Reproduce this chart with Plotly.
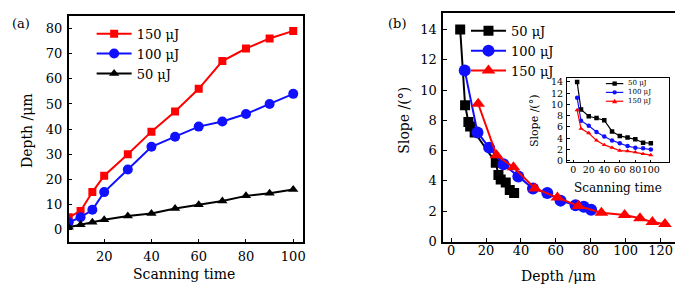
import plotly.graph_objects as go

W, H = 683, 288

# ---------------- data ----------------
scan_time = [5, 10, 15, 20, 30, 40, 50, 60, 70, 80, 90, 100]
depth_150 = [5, 7.5, 15, 21.5, 30, 39, 47, 56, 67, 72, 76, 79]
depth_100 = [3, 5, 8, 15, 24, 33, 37, 41, 43, 46, 50, 54]
depth_50 = [1, 2, 3, 4, 5.5, 6.5, 8.5, 10, 11.5, 13.5, 14.5, 16]

b_depth_50 = [5.2, 8.0, 9.9, 10.9, 13.5, 25.6, 27.1, 28.4, 31.3, 33.6, 36.1]
b_slope_50 = [14.0, 9.0, 7.9, 7.6, 7.2, 5.2, 4.4, 4.1, 3.9, 3.4, 3.2]
b_depth_100 = [7.8, 15.1, 21.8, 30.0, 38.5, 46.9, 55.1, 62.7, 71.3, 76.0, 80.2]
b_slope_100 = [11.3, 7.2, 6.2, 5.1, 4.3, 3.5, 3.2, 2.7, 2.4, 2.3, 2.1]
b_depth_150 = [15.5, 26.0, 35.7, 48.1, 60.9, 72.9, 86.1, 99.4, 108.2, 115.3, 122.5]
b_slope_150 = [9.1, 5.7, 4.9, 3.5, 2.9, 2.35, 1.9, 1.75, 1.54, 1.28, 1.15]

inset_time = [5, 10, 20, 30, 40, 50, 60, 70, 80, 90, 100]
inset_slope_50 = [14.0, 9.1, 7.9, 7.6, 7.2, 5.2, 4.4, 4.1, 3.8, 3.2, 3.1]
inset_slope_100 = [11.2, 7.1, 6.2, 5.1, 4.3, 3.6, 3.1, 2.6, 2.3, 2.2, 2.0]
inset_slope_150 = [9.0, 5.7, 4.9, 3.6, 2.8, 2.3, 1.8, 1.7, 1.5, 1.2, 1.0]
inset_xticks = [0, 20, 40, 60, 80, 100]

labels = ["150 μJ", "100 μJ", "50 μJ"]
RED, BLUE, BLACK = "#ff0000", "#1010ff", "#000000"

FONT = "DejaVu Serif"


def px(x):
    return x / W


def py(y):
    return 1 - y / H


fig = go.Figure()

# ---------------- panel (a) ----------------
for d, lab, col, sym, sz in [(depth_150, labels[0], RED, "square", 8),
                             (depth_100, labels[1], BLUE, "circle", 10),
                             (depth_50, labels[2], BLACK, "triangle-up", 9)]:
    fig.add_trace(go.Scatter(x=scan_time, y=d, name=lab, mode="lines+markers",
                             line=dict(color=col, width=2),
                             marker=dict(symbol=sym, size=sz, color=col),
                             xaxis="x", yaxis="y", legend="legend"))

# ---------------- panel (b) ----------------
for dx, dy, lab, col, sym, sz in [(b_depth_50, b_slope_50, labels[2], BLACK, "square", 10),
                                  (b_depth_100, b_slope_100, labels[1], BLUE, "circle", 12),
                                  (b_depth_150, b_slope_150, labels[0], RED, "triangle-up", 12)]:
    fig.add_trace(go.Scatter(x=dx, y=dy, name=lab, mode="lines+markers",
                             line=dict(color=col, width=2),
                             marker=dict(symbol=sym, size=sz, color=col),
                             xaxis="x2", yaxis="y2", legend="legend2"))

# ---------------- inset ----------------
for s, lab, col, sym in [(inset_slope_50, labels[2], BLACK, "square"),
                         (inset_slope_100, labels[1], BLUE, "circle"),
                         (inset_slope_150, labels[0], RED, "triangle-up")]:
    fig.add_trace(go.Scatter(x=inset_time, y=s, name=lab, mode="lines+markers",
                             line=dict(color=col, width=1.2),
                             marker=dict(symbol=sym, size=4.5, color=col),
                             xaxis="x3", yaxis="y3", showlegend=False))

ax_common = dict(showline=True, linecolor="black", linewidth=1.5, mirror=True,
                 ticks="inside", ticklen=4, tickcolor="black", showgrid=False,
                 zeroline=False, tickfont=dict(family=FONT, size=13, color="black"))

inset_ax = dict(showline=True, linecolor="black", linewidth=1, mirror=True,
                ticks="inside", ticklen=2.5, tickcolor="black", showgrid=False,
                zeroline=False,
                tickfont=dict(family=FONT, size=9.5, color="black"))

fig.update_layout(
    width=W, height=H, margin=dict(l=0, r=0, t=0, b=0),
    paper_bgcolor="white", plot_bgcolor="white",
    font=dict(family=FONT, color="black"),
    xaxis=dict(domain=[px(61), px(296)], range=[5, 104], dtick=20, tick0=0,
               anchor="y", ticklabelstandoff=1, **ax_common),
    yaxis=dict(domain=[py(241), py(7)], range=[-5, 85], dtick=10, tick0=0,
               anchor="x", ticklabelstandoff=2, **ax_common),
    xaxis2=dict(domain=[px(437), px(673)], range=[-4.6, 130], dtick=20, tick0=0,
                anchor="y2", ticklabelstandoff=-4, **ax_common),
    yaxis2=dict(domain=[py(240), py(4)], range=[0, 15.1], dtick=2, tick0=0,
                anchor="x2", ticklabelstandoff=2, **ax_common),
    xaxis3=dict(domain=[px(561.5), px(664)], range=[-8, 123.5],
                tickmode="array", tickvals=inset_xticks,
                anchor="y3", tickangle=0, ticklabelstandoff=-1, **inset_ax),
    yaxis3=dict(domain=[py(158), py(71)], range=[-0.25, 14.75], dtick=2, tick0=0,
                anchor="x3", ticklabelstandoff=1, **inset_ax),
    legend=dict(x=px(84), y=py(10), xanchor="left", yanchor="top",
                bgcolor="rgba(0,0,0,0)", font=dict(family=FONT, size=13, color="black"),
                tracegroupgap=0, itemwidth=35),
    legend2=dict(x=px(460), y=py(7), xanchor="left", yanchor="top",
                 bgcolor="rgba(0,0,0,0)", font=dict(family=FONT, size=13, color="black"),
                 tracegroupgap=0, itemwidth=35),
)

# axis titles and panel labels
ann = [
    dict(text="Scanning time", x=px(177), y=py(274), font=dict(size=14)),
    dict(text="Depth /μm", x=px(19), y=py(125), textangle=-90, font=dict(size=14)),
    dict(text="Depth /μm", x=px(553), y=py(276), font=dict(size=14)),
    dict(text="Slope /(°)", x=px(398), y=py(115), textangle=-90, font=dict(size=14)),
    dict(text="Scanning time", x=px(613), y=py(185), font=dict(size=12)),
    dict(text="Slope /(°)", x=px(529), y=py(115), textangle=-90, font=dict(size=11)),
    dict(text="(a)", x=px(13), y=py(15), font=dict(size=13)),
    dict(text="(b)", x=px(391), y=py(15), font=dict(size=13)),
]
for a in ann:
    a.update(xref="paper", yref="paper", showarrow=False,
             xanchor="center", yanchor="middle")
    a["font"] = dict(family=FONT, color="black", **a["font"])
    fig.add_annotation(**a)

# inset legend (small, drawn as decoration)
inset_leg = [(labels[2], BLACK, "square"), (labels[1], BLUE, "circle"), (labels[0], RED, "triangle")]
leg_font = 7
row_gap = leg_font * 1.3
row_y = [77 + i * row_gap for i in range(3)]
for (lab, col, kind), ry in zip(inset_leg, row_y):
    fig.add_shape(type="line", xref="paper", yref="paper",
                  x0=px(600.5), x1=px(618), y0=py(ry), y1=py(ry),
                  line=dict(color=col, width=1.2))
    cx, r = 609.3, 2.2
    if kind == "square":
        fig.add_shape(type="rect", xref="paper", yref="paper",
                      x0=px(cx - r), x1=px(cx + r), y0=py(ry + r), y1=py(ry - r),
                      fillcolor=col, line=dict(width=0))
    elif kind == "circle":
        fig.add_shape(type="circle", xref="paper", yref="paper",
                      x0=px(cx - r), x1=px(cx + r), y0=py(ry + r), y1=py(ry - r),
                      fillcolor=col, line=dict(width=0))
    else:
        path = (f"M {px(cx - 2.6)},{py(ry + 2)} L {px(cx + 2.6)},{py(ry + 2)} "
                f"L {px(cx)},{py(ry - 2.6)} Z")
        fig.add_shape(type="path", xref="paper", yref="paper", path=path,
                      fillcolor=col, line=dict(width=0))
fig.add_annotation(text="<br>".join(l for l, _, _ in inset_leg), xref="paper", yref="paper",
                   x=px(621), y=py(row_y[1]), xanchor="left", yanchor="middle",
                   align="left", showarrow=False,
                   font=dict(family=FONT, size=leg_font, color="black"))

fig.write_html("out.html")
